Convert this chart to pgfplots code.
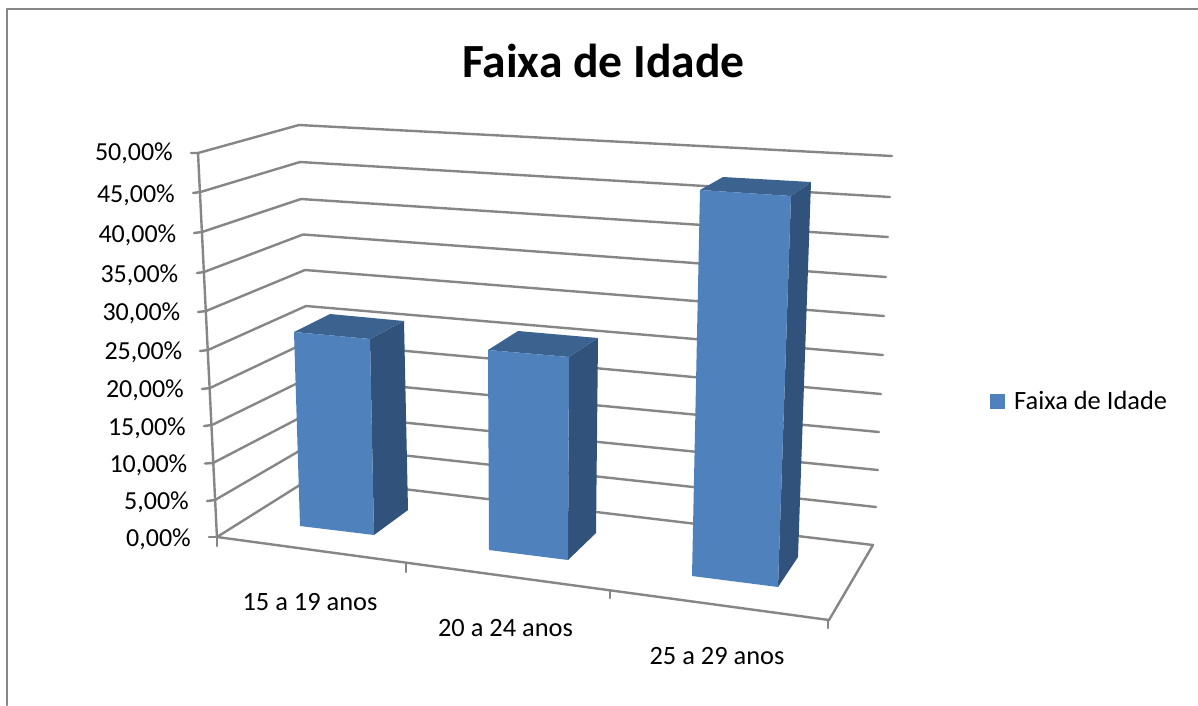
\documentclass[border=0pt]{standalone}
\usepackage{fontspec}
\setmainfont{Carlito}
\usepackage{pgfplots}
\pgfplotsset{compat=1.18}
\definecolor{gridc}{HTML}{868686}
\definecolor{front}{HTML}{4F81BD}
\definecolor{side}{HTML}{31527A}
\definecolor{topc}{HTML}{3C6390}
\begin{document}
\begin{tikzpicture}[x=1pt,y=1pt]
\begin{axis}[
  scale only axis, width=1198pt, height=705pt,
  xmin=0, xmax=1198, ymin=0, ymax=705, y dir=reverse,
  hide axis, clip=true,
  legend style={at={(axis cs:990,401)}, anchor=west, draw=none, fill=none,
    font=\fontsize{26.4}{26.4}\selectfont, inner sep=0pt, row sep=0pt},
  legend image code/.code={\fill[front] (0pt,-7.5pt) rectangle (15pt,7.5pt);},
  legend cell align=left,
  every axis plot/.append style={line cap=round, line join=round},
  gl/.style={draw=gridc, line width=2.4pt, forget plot},
]
% page
\addplot[draw=none, fill=white, forget plot] coordinates {(0,0)(1198,0)(1198,705)(0,705)} --cycle;
% frame
\addplot[gl] coordinates {(7,705)(7,9)(1198,9)};
% floor
\addplot[gl] coordinates {(311,478)(217,537)(829,620)(873,545)(311,478)};
% wall axis
\addplot[gl] coordinates {(198,153)(217,538)};
% gridlines: tick end, wall point, back corner, right end (0 to 50 per cent)
\addplot[gl] coordinates {(207,501)(215,500)(309.5,445)(876,507)};
\addplot[gl] coordinates {(205,463.5)(213,463)(309,413)(878,470)};
\addplot[gl] coordinates {(204,426)(212,425)(308,378)(879,432)};
\addplot[gl] coordinates {(202,389)(210,388)(307,342)(881,394)};
\addplot[gl] coordinates {(200,351)(208,350)(306,306)(883,355)};
\addplot[gl] coordinates {(198,312)(206,311)(305,270)(884,316)};
\addplot[gl] coordinates {(197,273)(204,272)(303,234.5)(886,277)};
\addplot[gl] coordinates {(194,233)(202,232)(301,199)(888,237)};
\addplot[gl] coordinates {(193,193)(200.5,192)(300,162)(890,197)};
\addplot[gl] coordinates {(191,153)(198,153)(299,125)(892,156)};
% ticks
\addplot[gl] coordinates {(209,537)(217,537)};
\addplot[gl] coordinates {(217,537)(217,546)};
\addplot[gl] coordinates {(406,563)(406,572)};
\addplot[gl] coordinates {(610,590)(610,598)};
\addplot[gl] coordinates {(828,620)(828,628)};
% bar 1
\addplot[fill=side, draw=none, forget plot] coordinates {(370,339)(404,321)(408,510)(374,535)} --cycle;
\addplot[fill=topc, draw=none, forget plot] coordinates {(294,332)(330,314)(404,321)(370,339)} --cycle;
\addplot[fill=front, draw=none] coordinates {(294,332)(370,339)(374,535)(300,526)} --cycle;
\addlegendentry{\hspace{7pt}Faixa de Idade}
% bar 2
\addplot[fill=side, draw=none, forget plot] coordinates {(569,357)(598,338)(596,533)(568,560)} --cycle;
\addplot[fill=topc, draw=none, forget plot] coordinates {(488,350)(518,331)(598,338)(569,357)} --cycle;
\addplot[fill=front, draw=none, forget plot] coordinates {(488,350)(569,357)(568,560)(489,550)} --cycle;
% bar 3
\addplot[fill=side, draw=none, forget plot] coordinates {(791,196)(811,182)(798,557)(778,587)} --cycle;
\addplot[fill=topc, draw=none, forget plot] coordinates {(700,190)(723,177)(811,182)(791,196)} --cycle;
\addplot[fill=front, draw=none, forget plot] coordinates {(700,190)(791,196)(778,587)(692,576)} --cycle;
% texts
\node[font=\fontsize{47.6}{47.6}\selectfont\bfseries, anchor=center] at (axis cs:603.5,61) {Faixa de Idade};
\begin{scope}[every node/.style={font=\fontsize{26}{26}\selectfont, anchor=east, inner sep=0pt}]
\node at (axis cs:173,153.5) {50,00\%};
\node at (axis cs:175,195.5) {45,00\%};
\node at (axis cs:176.5,235.5) {40,00\%};
\node at (axis cs:178.5,275.5) {35,00\%};
\node at (axis cs:180.5,313.5) {30,00\%};
\node at (axis cs:182.5,352.5) {25,00\%};
\node at (axis cs:184,390.5) {20,00\%};
\node at (axis cs:186,428.5) {15,00\%};
\node at (axis cs:187.5,465.5) {10,00\%};
\node at (axis cs:189,502.5) {5,00\%};
\node at (axis cs:191,539.5) {0,00\%};
\end{scope}
\begin{scope}[every node/.style={font=\fontsize{26.4}{26.4}\selectfont, anchor=center, inner sep=0pt}]
\node at (axis cs:310,602) {15 a 19 anos};
\node at (axis cs:505.5,628) {20 a 24 anos};
\node at (axis cs:717,656) {25 a 29 anos};
\end{scope}
\end{axis}
\end{tikzpicture}
\end{document}
